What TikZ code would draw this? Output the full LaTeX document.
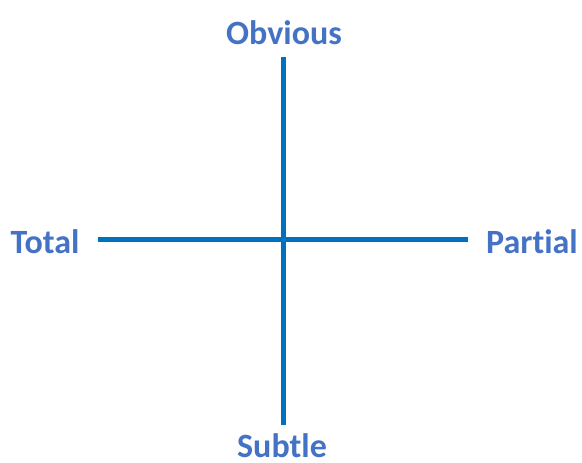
\documentclass[tikz,border=0pt]{standalone}
\usepackage{fontspec}
\setmainfont[Ligatures=NoCommon]{Carlito}
\usetikzlibrary{positioning}
\definecolor{axisblue}{HTML}{0070C0}
\definecolor{labelblue}{HTML}{4472C4}
\begin{document}
\begin{tikzpicture}[x=0.75pt,y=-0.75pt,
  axis/.style={draw=axisblue, line width=3.75pt},
  pole/.style={text=labelblue, font=\fontsize{25.5}{30}\selectfont\bfseries, inner sep=0pt}]
\useasboundingbox (0,0) rectangle (582,463);

% Ends of the axes
\coordinate (top) at (283,57);
\coordinate (bottom) at (283,425);
\coordinate (left) at (98,240);
\coordinate (right) at (468,240);

% Axes
\draw[axis] (top) -- (bottom);
\draw[axis] (left) -- (right);

% Labels
\node[pole] (obvious) at (284,33) {Obvious};
\node[pole] (subtle) at (282,446) {Subtle};
\node[pole] (total) at (45,242) {Total};
\node[pole] (partial) at (532,242) {Partial};
\end{tikzpicture}
\end{document}
